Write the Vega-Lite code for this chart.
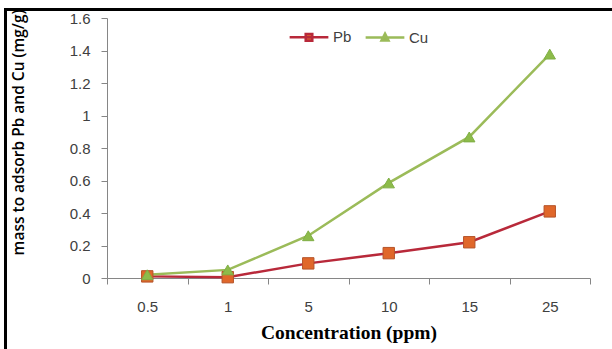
{
  "$schema": "https://vega.github.io/schema/vega-lite/v6.json",
  "width": 483,
  "height": 260,
  "autosize": {"type": "none"},
  "padding": {"left": 107, "top": 18, "right": 22, "bottom": 71},
  "background": "white",
  "config": {
    "view": {"stroke": null},
    "legend": {"strokeWidth": 3},
    "axis": {"grid": false, "domainColor": "#868686", "tickColor": "#868686", "labelColor": "#404040", "labelFont": "Liberation Sans", "labelFontSize": 15}
  },
  "data": {
    "values": [
      {"conc": "0.5", "series": "Pb", "value": 0.01},
      {"conc": "1", "series": "Pb", "value": 0.005},
      {"conc": "5", "series": "Pb", "value": 0.09},
      {"conc": "10", "series": "Pb", "value": 0.153},
      {"conc": "15", "series": "Pb", "value": 0.22},
      {"conc": "25", "series": "Pb", "value": 0.41},
      {"conc": "0.5", "series": "Cu", "value": 0.02},
      {"conc": "1", "series": "Cu", "value": 0.05},
      {"conc": "5", "series": "Cu", "value": 0.26},
      {"conc": "10", "series": "Cu", "value": 0.585},
      {"conc": "15", "series": "Cu", "value": 0.868},
      {"conc": "25", "series": "Cu", "value": 1.378}
    ]
  },
  "encoding": {
    "x": {
      "field": "conc", "type": "ordinal", "sort": ["0.5", "1", "5", "10", "15", "25"],
      "bandPosition": 0.5,
      "scale": {"type": "band", "paddingInner": 0, "paddingOuter": 0},
      "axis": {
        "title": "Concentration (ppm)", "labelAngle": 0, "tickBand": "extent", "tickSize": 6,
        "labelPadding": 15, "titleFont": "Liberation Serif", "titleFontWeight": "bold", "titleFontSize": 19.5,
        "titleColor": "black", "titleY": 54, "titleBaseline": "middle"
      }
    },
    "y": {
      "field": "value", "type": "quantitative",
      "scale": {"domain": [0, 1.6], "nice": false},
      "axis": {
        "values": [0, 0.2, 0.4, 0.6, 0.8, 1, 1.2, 1.4, 1.6], "format": "~g", "tickSize": 6, "labelPadding": 11,
        "title": "mass to adsorb Pb  and Cu (mg/g)", "titleFont": "Open Sans", "titleFontWeight": 600, "titleFontSize": 15.5,
        "titleColor": "black", "titleX": -89, "titleY": 114, "titleAngle": 270, "titleAlign": "center", "titleBaseline": "middle"
      }
    }
  },
  "layer": [
    {
      "mark": {"type": "line", "strokeWidth": 2.5},
      "encoding": {
        "color": {
          "field": "series", "type": "nominal", "sort": ["Pb", "Cu"],
          "scale": {"domain": ["Pb", "Cu"], "range": ["#B8293A", "#9BBB59"]},
          "legend": {
            "title": null, "orient": "none", "direction": "horizontal", "legendX": 181, "legendY": -2, "padding": 0,
            "symbolType": "M-1,0H1", "symbolSize": 1500, "symbolStrokeWidth": 2.5, "labelFontSize": 15,
            "labelFont": "Liberation Sans", "labelColor": "#404040", "labelOffset": 3, "columnPadding": 8,
            "encode": {
              "symbols": {
                "update": {
                  "shape": {"signal": "datum.value === 'Pb' ? 'M-1,0H1M-0.17,-0.17H0.17V0.17H-0.17Z' : 'M-1,0H1M0,-0.2L0.18,0.15H-0.18Z'"},
                  "fill": {"signal": "datum.value === 'Pb' ? '#E0672A' : '#8DBB4A'"},
                  "fillOpacity": {"value": 1}
                }
              }
            }
          }
        }
      }
    },
    {
      "mark": {"type": "point", "filled": true, "size": 130, "strokeWidth": 1},
      "encoding": {
        "shape": {"condition": {"test": "datum.series === 'Pb'", "value": "square"}, "value": "triangle-up"},
        "fill": {"condition": {"test": "datum.series === 'Pb'", "value": "#E0672A"}, "value": "#8DBB4A"},
        "stroke": {"condition": {"test": "datum.series === 'Pb'", "value": "#B5542A"}, "value": "#7FAF45"},
        "opacity": {
          "field": "conc", "type": "ordinal",
          "scale": {"range": [1, 1]},
          "legend": {
            "title": null, "orient": "none", "legendX": -101.5, "legendY": -8.5, "padding": 420,
            "values": ["0.5"], "strokeColor": "black", "fillColor": null, "labelExpr": "''",
            "symbolOpacity": 0, "labelOpacity": 0, "symbolStrokeWidth": 0,
            "encode": {"legend": {"update": {"strokeWidth": {"value": 3}, "stroke": {"value": "black"}}}}
          }
        }
      }
    }
  ]
}
